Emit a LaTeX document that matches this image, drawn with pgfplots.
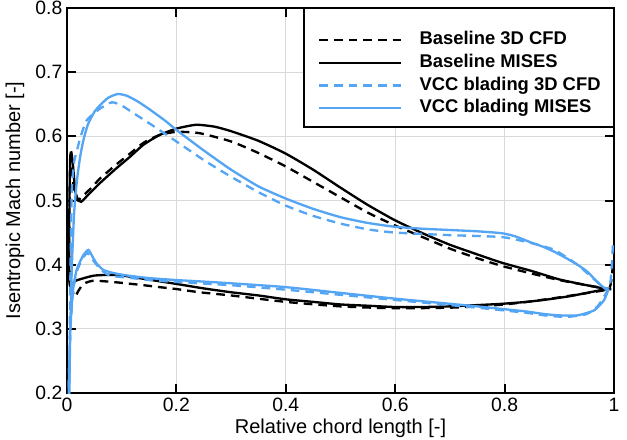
\documentclass[border=0pt]{standalone}
\usepackage{fontspec}
\setmainfont{Liberation Sans}
\usepackage{pgfplots}
\pgfplotsset{compat=1.18}
\definecolor{vccblue}{RGB}{85,165,245}

\begin{document}
\begin{tikzpicture}
\begin{axis}[
  scale only axis, width=410.25pt, height=288.75pt,
  xmin=0, xmax=1, ymin=0.2, ymax=0.8,
  xtick={0,0.2,0.4,0.6,0.8,1}, ytick={0.2,0.3,0.4,0.5,0.6,0.7,0.8},
  grid=major, grid style={line width=0.75pt, draw=black!15},
  axis line style={line width=1.5pt},
  every tick/.style={line width=1.5pt, black},
  major tick length=6.5pt,
  tick align=inside, tick pos=both,
  /pgf/number format/assume math mode=true,
  tick label style={font=\fontsize{14.5}{17}\selectfont},
  label style={font=\fontsize{15}{18}\selectfont},
  xlabel={Relative chord length [-]},
  ylabel={Isentropic Mach number [-]},
  xlabel style={at={(axis description cs:0.5,-0.0909)}, anchor=center},
  ylabel style={at={(axis description cs:-0.0951,0.5)}, anchor=center},
  legend image code/.code={\draw[#1] (0pt,0pt) -- (61.5pt,0pt);},
  legend style={draw=none, fill=none, at={(axis description cs:0.4589,0.94)},
    anchor=north west, inner sep=0pt, row sep=3.9pt, column sep=12.75pt,
    font=\bfseries\fontsize{13.8}{16}\selectfont,
    nodes={inner sep=0pt, text height=10.1pt, text depth=3pt}},
  legend cell align=left,
  every axis plot/.append style={line width=1.75pt, smooth, tension=0.35},
]
\draw[line width=1.5pt, fill=white] (axis description cs:0.433,1) rectangle (axis description cs:1,0.691);

% Baseline 3D CFD
\addplot[black, dash pattern=on 6.5pt off 4.5pt] coordinates {
(0.998,0.40) (0.995,0.375) (0.99,0.362) (0.96,0.357) (0.93,0.353) (0.9,0.349)
(0.85,0.343) (0.8,0.338) (0.75,0.335) (0.7,0.333) (0.6,0.332) (0.5,0.335)
(0.4,0.342) (0.3,0.352) (0.242,0.357) (0.2,0.362) (0.169,0.365) (0.14,0.368)
(0.096,0.372) (0.07,0.374) (0.048,0.375) (0.035,0.372) (0.027,0.367) (0.02,0.358)
(0.0145,0.35) (0.01,0.36) (0.006,0.38) (0.004,0.42) (0.005,0.50) (0.006,0.55)
(0.008,0.555) (0.011,0.53) (0.015,0.505) (0.02,0.5) (0.03,0.508) (0.045,0.52)
(0.06,0.534) (0.09,0.556) (0.115,0.573) (0.14,0.59) (0.169,0.602) (0.2,0.607)
(0.242,0.605) (0.3,0.592) (0.35,0.574) (0.4,0.553) (0.45,0.529) (0.5,0.505)
(0.55,0.481) (0.6,0.461) (0.65,0.443) (0.7,0.425) (0.75,0.41) (0.795,0.398)
(0.85,0.386) (0.9,0.376) (0.95,0.368) (0.99,0.362)
};
\addlegendentry{Baseline 3D CFD}

% Baseline MISES
\addplot[black] coordinates {
(0.995,0.362) (0.987,0.362) (0.956,0.357) (0.92,0.351) (0.88,0.346) (0.84,0.342)
(0.795,0.339) (0.75,0.337) (0.7,0.335) (0.65,0.334) (0.6,0.334) (0.55,0.336)
(0.5,0.338) (0.45,0.342) (0.4,0.346) (0.35,0.352) (0.3,0.357) (0.25,0.363)
(0.2,0.370) (0.17,0.374) (0.14,0.378) (0.11,0.382) (0.09,0.384) (0.07,0.384)
(0.05,0.383) (0.035,0.38) (0.016,0.375) (0.01,0.37) (0.006,0.365) (0.004,0.38)
(0.004,0.45) (0.005,0.53) (0.006,0.57) (0.008,0.575) (0.011,0.555) (0.015,0.515)
(0.02,0.502) (0.026,0.498) (0.04,0.51) (0.06,0.527) (0.09,0.55) (0.115,0.568)
(0.14,0.587) (0.169,0.602) (0.2,0.612) (0.236,0.618) (0.27,0.615) (0.3,0.608)
(0.35,0.593) (0.4,0.573) (0.45,0.548) (0.5,0.52) (0.55,0.493) (0.6,0.469)
(0.65,0.449) (0.7,0.431) (0.75,0.416) (0.795,0.403) (0.85,0.39) (0.9,0.377)
(0.95,0.368) (0.987,0.362) (0.995,0.362)
};
\addlegendentry{Baseline MISES}

% VCC blading 3D CFD
\addplot[vccblue, dash pattern=on 6.5pt off 4.5pt] coordinates {
(0.998,0.43) (0.996,0.40) (0.993,0.37) (0.985,0.355) (0.97,0.335) (0.95,0.323)
(0.92,0.319) (0.9,0.319) (0.873,0.321) (0.84,0.325) (0.795,0.329) (0.75,0.333)
(0.7,0.337) (0.6,0.345) (0.5,0.353) (0.4,0.361) (0.3,0.368) (0.2,0.373)
(0.151,0.376) (0.12,0.379) (0.096,0.381) (0.078,0.383) (0.065,0.39) (0.054,0.4)
(0.045,0.41) (0.038,0.418) (0.03,0.412) (0.018,0.39) (0.011,0.36) (0.007,0.31)
(0.004,0.24) (0.003,0.19) (0.004,0.19) (0.005,0.3) (0.007,0.43) (0.009,0.52)
(0.013,0.56) (0.0177,0.576) (0.024,0.597) (0.036,0.625) (0.06,0.643) (0.082,0.653)
(0.1,0.648) (0.12,0.637) (0.151,0.62) (0.2,0.592) (0.25,0.563) (0.3,0.537)
(0.35,0.513) (0.4,0.492) (0.45,0.476) (0.5,0.464) (0.55,0.455) (0.6,0.45)
(0.7,0.446) (0.795,0.443) (0.847,0.434) (0.891,0.423) (0.933,0.4) (0.96,0.38)
(0.98,0.365) (0.99,0.362)
};
\addlegendentry{VCC blading 3D CFD}

% VCC blading MISES
\addplot[vccblue] coordinates {
(0.99,0.362) (0.982,0.345) (0.964,0.329) (0.933,0.321) (0.9,0.321) (0.873,0.323)
(0.84,0.327) (0.795,0.331) (0.75,0.335) (0.7,0.339) (0.65,0.343) (0.6,0.347)
(0.5,0.356) (0.4,0.365) (0.3,0.371) (0.242,0.374) (0.2,0.376) (0.151,0.379)
(0.12,0.382) (0.096,0.385) (0.08,0.388) (0.066,0.392) (0.054,0.402) (0.045,0.415)
(0.039,0.423) (0.03,0.415) (0.0176,0.392) (0.011,0.36) (0.0067,0.309) (0.004,0.24)
(0.003,0.19) (0.004,0.19) (0.006,0.3) (0.009,0.4) (0.013,0.48) (0.018,0.53)
(0.024,0.568) (0.03,0.594) (0.038,0.618) (0.05,0.638) (0.06,0.648) (0.075,0.66)
(0.093,0.666) (0.11,0.663) (0.13,0.654) (0.151,0.642) (0.18,0.624) (0.2,0.61)
(0.25,0.578) (0.3,0.548) (0.35,0.522) (0.4,0.503) (0.45,0.487) (0.5,0.474)
(0.55,0.465) (0.6,0.459) (0.65,0.456) (0.7,0.454) (0.75,0.452) (0.795,0.449)
(0.82,0.444) (0.847,0.435) (0.87,0.428) (0.891,0.42) (0.913,0.41) (0.933,0.4)
(0.95,0.39) (0.964,0.378) (0.976,0.368) (0.985,0.362) (0.99,0.362)
};
\addlegendentry{VCC blading MISES}
\end{axis}
\pgfresetboundingbox
\path[use as bounding box] ([xshift=-50.25pt,yshift=-34.5pt]current axis.south west) rectangle ([xshift=9.75pt,yshift=6pt]current axis.north east);
\end{tikzpicture}
\end{document}
